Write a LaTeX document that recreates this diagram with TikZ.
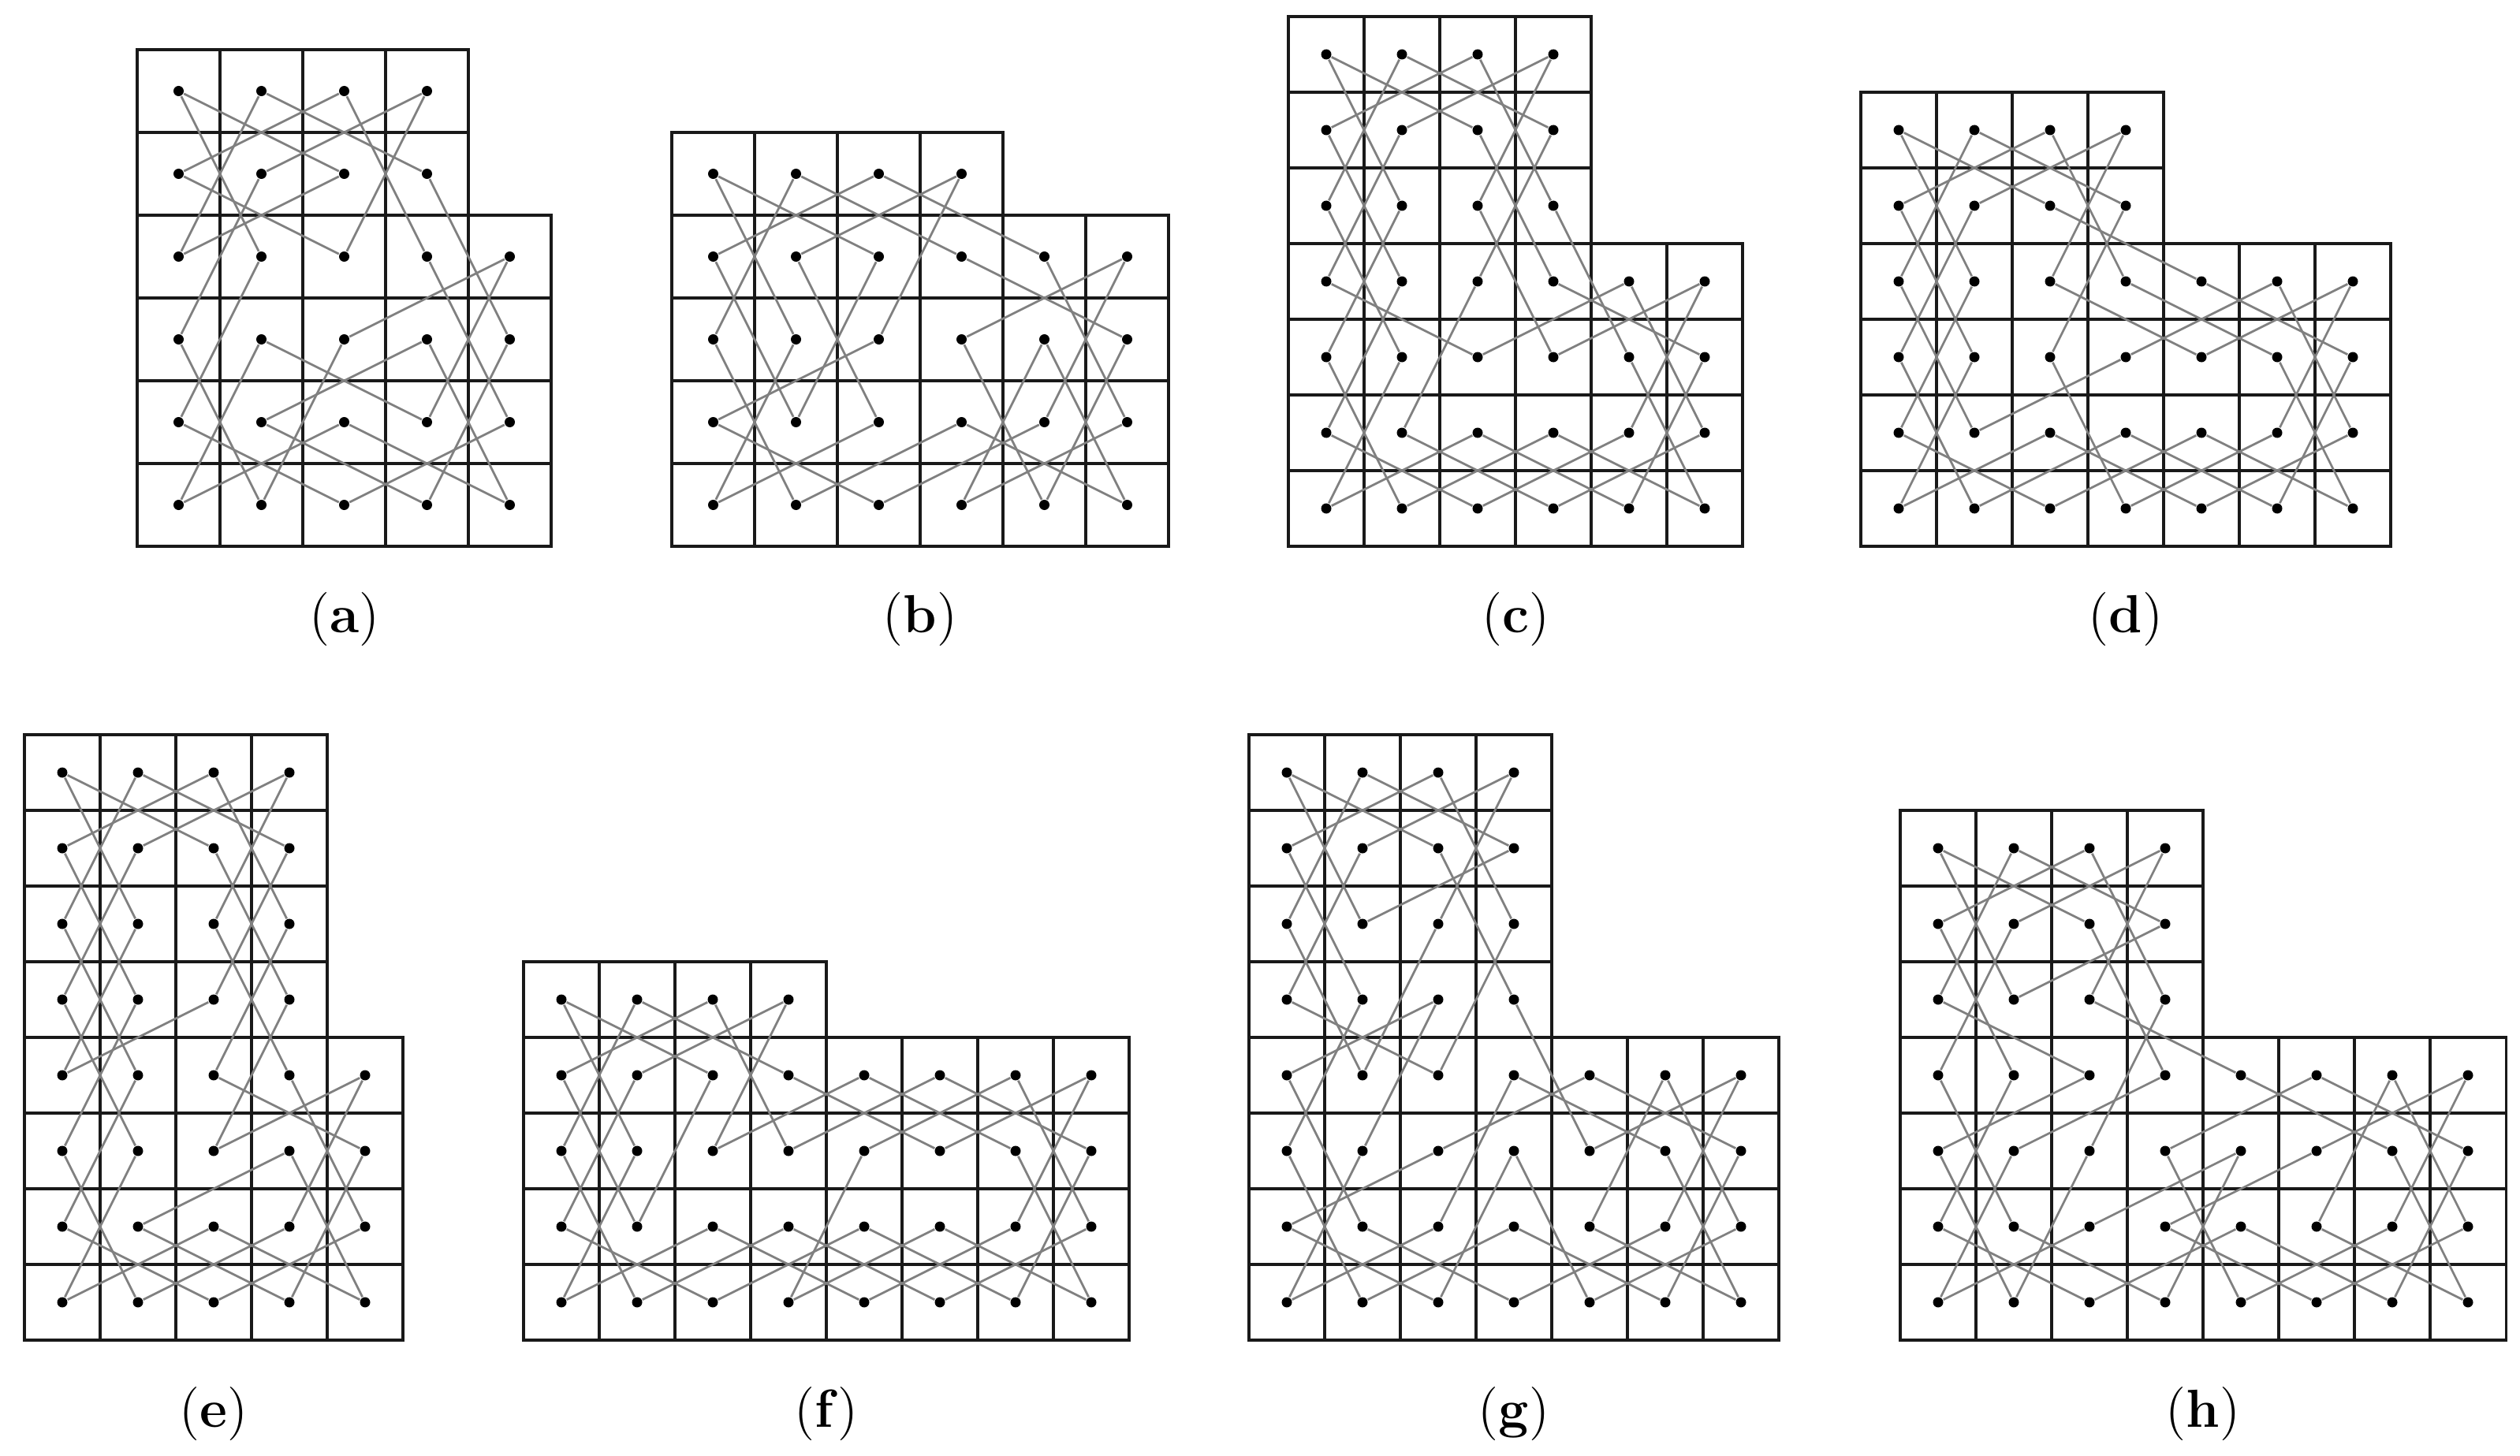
\documentclass[tikz,border=0pt]{standalone}
\usetikzlibrary{shapes.geometric}
\tikzset{
  gridline/.style={line width=0.62pt,draw=black!90},
  tour/.style={line width=0.55pt,draw=black!50},
  dot/.style={circle,fill=black,inner sep=0pt,minimum size=2.6pt},
  lab/.style={font=\fontsize{13.6}{16}\selectfont,anchor=center}
}
\newcommand\kpanel[7]{%
\begin{scope}[shift={(#2pt,#3pt)},x=#4pt,y=#4pt]
  \pgfmathtruncatemacro\ktop{4+#6}
  \foreach \c in {1,...,#5} \foreach \r in {1,...,4} {\draw[gridline] (\c-1,\r-1) rectangle (\c,\r);}
  \foreach \c in {1,...,4} \foreach \r in {5,...,\ktop} {\draw[gridline] (\c-1,\r-1) rectangle (\c,\r);}
  \foreach \c in {1,...,#5} \foreach \r in {1,...,4} {\node[dot] (#1-\c-\r) at (\c-0.5,\r-0.5) {};}
  \foreach \c in {1,...,4} \foreach \r in {5,...,\ktop} {\node[dot] (#1-\c-\r) at (\c-0.5,\r-0.5) {};}
  \foreach \a/\b/\u/\v in {#7} {\draw[tour] (#1-\a-\b) -- (#1-\u-\v);}
\end{scope}}
\begin{document}
\begin{tikzpicture}
\useasboundingbox (0,0) rectangle (639.2pt,-369.2pt);
\kpanel{a}{34.8}{-138.6}{21}{5}{2}{1/6/2/4, 1/6/3/5, 2/6/1/4, 2/6/4/5, 3/6/1/5, 3/6/4/4, 4/6/2/5, 4/6/3/4, 1/5/3/4, 2/5/1/3, 3/5/1/4, 4/5/5/3, 2/4/1/2, 4/4/5/2, 5/4/3/3, 5/4/4/2, 1/3/2/1, 2/3/4/2, 2/3/1/1, 3/3/2/1, 4/3/2/2, 4/3/5/1, 5/3/4/1, 1/2/3/1, 2/2/4/1, 3/2/1/1, 3/2/5/1, 5/2/3/1}
\kpanel{b}{170.4}{-138.6}{21}{6}{1}{1/5/3/4, 1/5/2/3, 2/5/1/3, 2/5/4/4, 3/5/1/4, 3/5/5/4, 4/5/2/4, 4/5/3/3, 1/4/2/2, 2/4/3/2, 3/4/2/2, 4/4/6/3, 5/4/6/2, 6/4/4/3, 6/4/5/2, 1/3/2/1, 2/3/1/1, 3/3/1/2, 4/3/5/1, 5/3/4/1, 5/3/6/1, 6/3/5/1, 1/2/3/1, 3/2/1/1, 4/2/2/1, 4/2/6/1, 5/2/3/1, 6/2/4/1}
\kpanel{c}{326.8}{-138.6}{19.2}{6}{3}{1/7/3/6, 1/7/2/5, 2/7/1/5, 2/7/4/6, 3/7/1/6, 3/7/4/5, 4/7/2/6, 4/7/3/5, 1/6/2/4, 2/6/1/4, 3/6/4/4, 4/6/3/4, 1/5/2/3, 2/5/1/3, 3/5/4/3, 4/5/5/3, 1/4/3/3, 2/4/1/2, 3/4/2/2, 4/4/6/3, 5/4/3/3, 5/4/6/2, 6/4/4/3, 6/4/5/2, 1/3/2/1, 2/3/1/1, 5/3/6/1, 6/3/5/1, 1/2/3/1, 2/2/4/1, 3/2/1/1, 3/2/5/1, 4/2/2/1, 4/2/6/1, 5/2/3/1, 6/2/4/1}
\kpanel{d}{472}{-138.6}{19.2}{7}{2}{1/6/3/5, 1/6/2/4, 2/6/1/4, 2/6/4/5, 3/6/1/5, 3/6/4/4, 4/6/2/5, 4/6/3/4, 1/5/2/3, 2/5/1/3, 3/5/5/4, 4/5/3/3, 1/4/2/2, 2/4/1/2, 3/4/5/3, 4/4/6/3, 5/4/7/3, 6/4/4/3, 6/4/7/2, 7/4/5/3, 7/4/6/2, 1/3/2/1, 2/3/1/1, 3/3/4/1, 4/3/2/2, 6/3/7/1, 7/3/6/1, 1/2/3/1, 3/2/1/1, 3/2/5/1, 4/2/2/1, 4/2/6/1, 5/2/3/1, 5/2/7/1, 6/2/4/1, 7/2/5/1}
\kpanel{e}{6.2}{-340}{19.2}{5}{4}{1/8/3/7, 1/8/2/6, 2/8/1/6, 2/8/4/7, 3/8/1/7, 3/8/4/6, 4/8/2/7, 4/8/3/6, 1/7/2/5, 2/7/1/5, 3/7/4/5, 4/7/3/5, 1/6/2/4, 2/6/1/4, 3/6/4/4, 4/6/3/4, 1/5/2/3, 2/5/1/3, 3/5/1/4, 4/5/3/3, 2/4/1/2, 3/4/5/3, 4/4/5/2, 5/4/3/3, 5/4/4/2, 1/3/2/1, 2/3/1/1, 4/3/2/2, 4/3/5/1, 5/3/4/1, 1/2/3/1, 2/2/4/1, 3/2/1/1, 3/2/5/1, 4/2/2/1, 5/2/3/1}
\kpanel{f}{132.8}{-340}{19.2}{8}{1}{1/5/3/4, 1/5/2/3, 2/5/1/3, 2/5/4/4, 3/5/1/4, 3/5/4/3, 4/5/2/4, 4/5/3/3, 1/4/2/2, 2/4/1/2, 3/4/2/2, 4/4/6/3, 5/4/3/3, 5/4/7/3, 6/4/4/3, 6/4/8/3, 7/4/5/3, 7/4/8/2, 8/4/6/3, 8/4/7/2, 1/3/2/1, 2/3/1/1, 5/3/4/1, 7/3/8/1, 8/3/7/1, 1/2/3/1, 3/2/1/1, 3/2/5/1, 4/2/2/1, 4/2/6/1, 5/2/3/1, 5/2/7/1, 6/2/4/1, 6/2/8/1, 7/2/5/1, 8/2/6/1}
\kpanel{g}{316.8}{-340}{19.2}{7}{4}{1/8/3/7, 1/8/2/6, 2/8/1/6, 2/8/4/7, 3/8/1/7, 3/8/4/6, 4/8/2/7, 4/8/3/6, 1/7/2/5, 2/7/1/5, 3/7/4/5, 4/7/2/6, 1/6/2/4, 3/6/2/4, 4/6/3/4, 1/5/3/4, 2/5/1/3, 3/5/1/4, 3/5/2/3, 4/5/5/3, 1/4/2/2, 4/4/6/3, 4/4/3/2, 5/4/3/3, 5/4/7/3, 6/4/5/2, 6/4/7/2, 7/4/5/3, 7/4/6/2, 1/3/2/1, 2/3/1/1, 3/3/1/2, 4/3/3/1, 4/3/5/1, 6/3/7/1, 7/3/6/1, 1/2/3/1, 2/2/4/1, 3/2/1/1, 4/2/2/1, 4/2/6/1, 5/2/7/1, 6/2/4/1, 7/2/5/1}
\kpanel{h}{482}{-340}{19.2}{8}{3}{1/7/3/6, 1/7/2/5, 2/7/1/5, 2/7/4/6, 3/7/1/6, 3/7/4/5, 4/7/2/6, 4/7/3/5, 1/6/2/4, 2/6/1/4, 3/6/4/4, 4/6/2/5, 1/5/3/4, 3/5/5/4, 4/5/3/3, 1/4/2/2, 2/4/1/2, 3/4/1/3, 4/4/2/3, 5/4/7/3, 6/4/4/3, 6/4/8/3, 7/4/6/2, 7/4/8/2, 8/4/6/3, 8/4/7/2, 1/3/2/1, 2/3/1/1, 3/3/2/1, 4/3/5/1, 5/3/3/2, 5/3/4/1, 6/3/4/2, 7/3/8/1, 8/3/7/1, 1/2/3/1, 2/2/4/1, 3/2/1/1, 4/2/6/1, 5/2/7/1, 5/2/3/1, 6/2/8/1, 7/2/5/1, 8/2/6/1}
\node[lab] (la) at (87.4pt,-157.2pt) {(\textbf{a})};
\node[lab] (lb) at (233.4pt,-157.2pt) {(\textbf{b})};
\node[lab] (lc) at (384.4pt,-157.2pt) {(\textbf{c})};
\node[lab] (ld) at (539.2pt,-157.2pt) {(\textbf{d})};
\node[lab] (le) at (54.2pt,-358.8pt) {(\textbf{e})};
\node[lab] (lf) at (209.6pt,-358.8pt) {(\textbf{f})};
\node[lab] (lg) at (384pt,-358.8pt) {(\textbf{g})};
\node[lab] (lh) at (558.8pt,-358.8pt) {(\textbf{h})};
\end{tikzpicture}
\end{document}
